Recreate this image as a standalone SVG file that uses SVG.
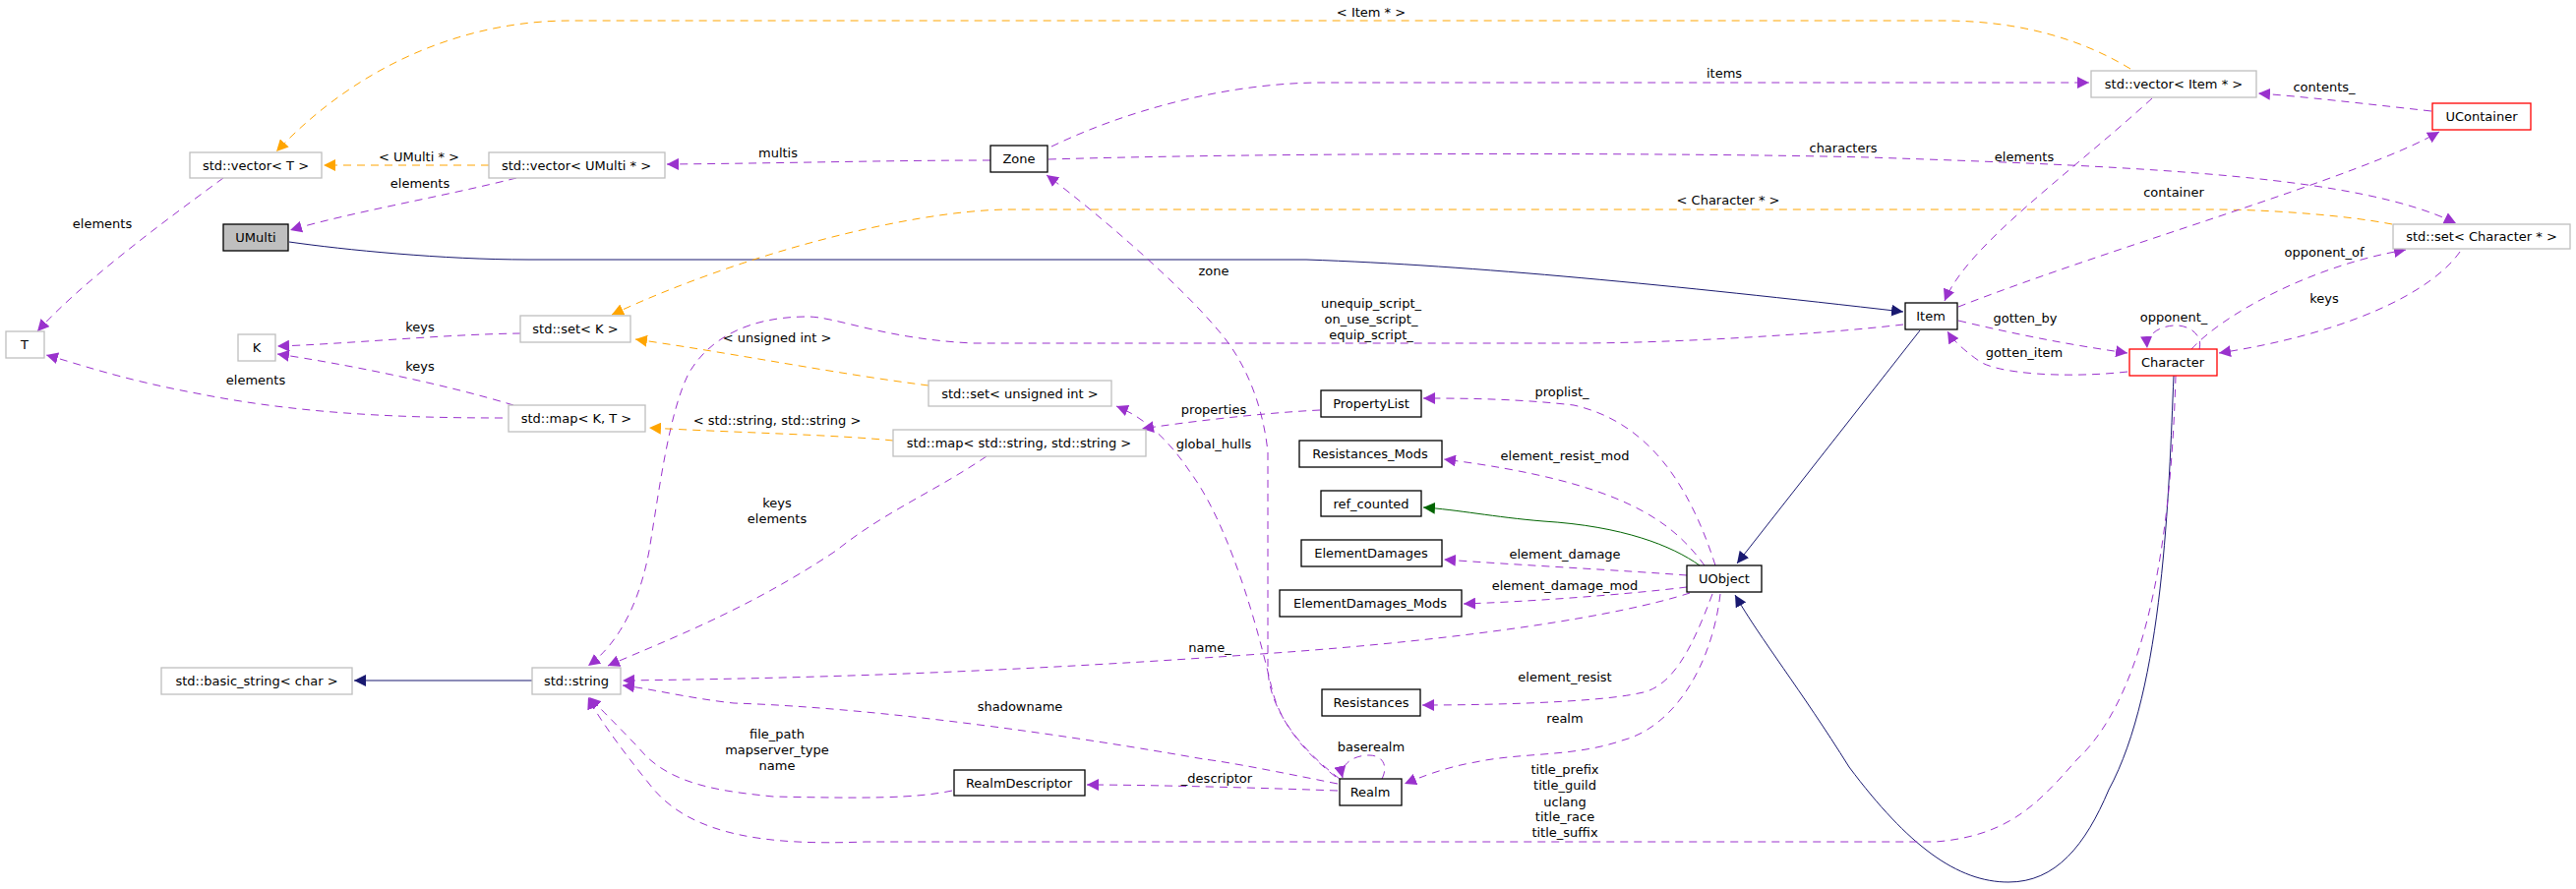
<svg xmlns="http://www.w3.org/2000/svg" width="2619" height="904" viewBox="0 0 2619 904">
<defs>
<style>
text{font-family:"DejaVu Sans","Liberation Sans",sans-serif;font-size:13px;fill:#000;text-anchor:middle}
.n rect{fill:#fff;stroke:#000;stroke-width:1.3}
.g rect{fill:#fff;stroke:#bfbfbf;stroke-width:1.3}
.r rect{fill:#fff;stroke:#ff0000;stroke-width:1.3}
.c path{fill:none}
.p{stroke:#9a32cd;stroke-dasharray:8,6;marker-end:url(#ap)}
.o{stroke:#ffa500;stroke-dasharray:8,6;marker-end:url(#ao)}
.b{stroke:#191970;marker-end:url(#ab)}
.d{stroke:#006400;marker-end:url(#ad)}
</style>
<marker id="ap" viewBox="0 0 10 10" refX="10" refY="5" markerWidth="12" markerHeight="12" markerUnits="userSpaceOnUse" orient="auto"><path d="M0,0L10,5L0,10z" fill="#9a32cd"/></marker>
<marker id="ao" viewBox="0 0 10 10" refX="10" refY="5" markerWidth="12" markerHeight="12" markerUnits="userSpaceOnUse" orient="auto"><path d="M0,0L10,5L0,10z" fill="#ffa500"/></marker>
<marker id="ab" viewBox="0 0 10 10" refX="10" refY="5" markerWidth="12" markerHeight="12" markerUnits="userSpaceOnUse" orient="auto"><path d="M0,0L10,5L0,10z" fill="#191970"/></marker>
<marker id="ad" viewBox="0 0 10 10" refX="10" refY="5" markerWidth="12" markerHeight="12" markerUnits="userSpaceOnUse" orient="auto"><path d="M0,0L10,5L0,10z" fill="#006400"/></marker>
</defs>
<rect width="2619" height="904" fill="#fff"/>
<g id="connectors" class="c">
<path class="o" d="M2166,70 C2100,30 2030,21 1974,21 L580,21 C480,21 370,60 281,154"/>
<path class="o" d="M497,168 L329,168"/>
<path class="p" d="M1007,163 C900,163 800,166 678,167"/>
<path class="p" d="M525,181 C450,200 360,215 295,234"/>
<path class="p" d="M227,181 C160,230 80,290 38,337"/>
<path class="p" d="M529,339 C450,340 350,350 282,352"/>
<path class="p" d="M522,412 C450,390 350,370 282,360"/>
<path class="p" d="M511,425 C400,425 300,420 200,400 C120,385 80,370 47,361"/>
<path class="b" d="M294,246 C350,254 450,264 537,264 L1328,264 C1500,270 1700,290 1935,317"/>
<path class="o" d="M2432,228 C2380,218 2300,213 2250,213 L1023,213 C920,215 750,260 622,320"/>
<path class="p" d="M1069,149 C1150,110 1250,85 1340,84 L2124,84"/>
<path class="p" d="M1066,162 C1300,155 1700,155 1900,160 C2200,170 2400,180 2497,227"/>
<path class="p" d="M2188,100 C2100,180 2000,250 1977,306"/>
<path class="p" d="M2472,113 C2400,105 2340,98 2296,95"/>
<path class="p" d="M1991,312 C2150,250 2400,180 2480,134"/>
<path class="p" d="M1991,326 C2050,340 2100,350 2163,359"/>
<path class="p" d="M2163,378 C2100,385 2030,380 2012,367 C1995,355 1985,345 1980,337"/>
<path class="p" d="M2236,355 C2240,340 2225,330 2210,331 C2195,332 2182,340 2183,354"/>
<path class="p" d="M2228,355 C2260,320 2350,270 2446,254"/>
<path class="p" d="M2501,256 C2470,300 2380,340 2256,359"/>
<path class="b" d="M1952,336 L1766,573"/>
<path class="b" d="M2210,382 C2205,500 2200,700 2144,803 C2120,860 2090,897 2042,897 C1990,897 1940,860 1880,780 C1830,700 1790,650 1764,605"/>
<path class="p" d="M2212,382 C2208,520 2190,700 2111,773 C2070,820 2040,850 1968,856 L880,856 C780,860 700,850 660,797 C630,760 605,725 598,709"/>
<path class="p" d="M1744,575 C1720,500 1680,430 1600,412 C1540,405 1480,405 1447,405"/>
<path class="p" d="M1733,575 C1700,530 1650,490 1468,467"/>
<path class="d" d="M1728,575 C1700,555 1650,535 1569,530 C1520,526 1480,518 1447,516"/>
<path class="p" d="M1715,585 C1650,580 1550,575 1468,569"/>
<path class="p" d="M1715,597 C1650,605 1550,612 1488,614"/>
<path class="p" d="M1718,603 C1650,625 1500,650 1282,665 C1000,685 800,690 633,692"/>
<path class="p" d="M1360,797 C1300,785 1250,775 1224,772 C1100,750 900,720 746,715 C700,710 660,700 633,697"/>
<path class="p" d="M1360,804 C1250,800 1150,798 1105,798"/>
<path class="p" d="M968,804 C930,812 880,812 786,810 C740,805 680,800 649,760 C620,730 605,715 599,709"/>
<path class="p" d="M1741,604 C1720,660 1700,700 1666,705 C1620,715 1500,717 1446,717"/>
<path class="p" d="M1749,604 C1740,680 1700,740 1649,753 C1600,770 1546,765 1500,775 C1470,780 1445,790 1428,797"/>
<path class="p" d="M1405,792 C1412,778 1405,768 1392,768 C1375,768 1362,778 1365,791"/>
<path class="p" d="M1362,792 C1320,760 1290,720 1289,680 L1289,460 C1285,420 1270,370 1236,333 C1200,290 1120,220 1064,178"/>
<path class="p" d="M1358,790 C1320,760 1300,730 1293,700 C1270,600 1240,520 1210,480 C1190,450 1165,425 1135,413"/>
<path class="p" d="M1935,330 C1850,340 1700,349 1600,349 L990,349 C900,345 850,322 821,322 C760,322 720,345 700,380 C680,420 670,500 660,560 C645,640 610,668 598,677"/>
<path class="p" d="M1342,417 C1280,420 1200,430 1161,436"/>
<path class="o" d="M908,448 C850,442 750,440 660,435"/>
<path class="o" d="M944,392 C850,380 750,360 646,345"/>
<path class="p" d="M1003,464 C950,500 900,520 850,560 C760,620 680,650 618,677"/>
<path class="b" d="M541,692 L360,692"/>
</g>
<g id="labels">
<text x="1394" y="17">&lt; Item * &gt;</text>
<text x="426" y="164">&lt; UMulti * &gt;</text>
<text x="427" y="191">elements</text>
<text x="791" y="160">multis</text>
<text x="104" y="232">elements</text>
<text x="427" y="337">keys</text>
<text x="427" y="377">keys</text>
<text x="260" y="391">elements</text>
<text x="790" y="348">&lt; unsigned int &gt;</text>
<text x="790" y="432">&lt; std::string, std::string &gt;</text>
<text x="1753" y="79">items</text>
<text x="1757" y="208">&lt; Character * &gt;</text>
<text x="1234" y="280">zone</text>
<text x="1394" y="313">unequip_script_</text>
<text x="1394" y="329">on_use_script_</text>
<text x="1394" y="345">equip_script_</text>
<text x="1234" y="421">properties</text>
<text x="1234" y="456">global_hulls</text>
<text x="1588" y="403">proplist_</text>
<text x="2363" y="93">contents_</text>
<text x="1874" y="155">characters</text>
<text x="2058" y="164">elements</text>
<text x="2210" y="200">container</text>
<text x="2363" y="261">opponent_of</text>
<text x="2363" y="308">keys</text>
<text x="2059" y="328">gotten_by</text>
<text x="2210" y="327">opponent_</text>
<text x="2058" y="363">gotten_item</text>
<text x="1591" y="468">element_resist_mod</text>
<text x="1591" y="568">element_damage</text>
<text x="1591" y="600">element_damage_mod</text>
<text x="1230" y="663">name_</text>
<text x="1591" y="693">element_resist</text>
<text x="1591" y="735">realm</text>
<text x="1037" y="723">shadowname</text>
<text x="1394" y="764">baserealm</text>
<text x="1237" y="796">_descriptor</text>
<text x="1591" y="787">title_prefix</text>
<text x="1591" y="803">title_guild</text>
<text x="1591" y="820">uclang</text>
<text x="1591" y="835">title_race</text>
<text x="1591" y="851">title_suffix</text>
<text x="790" y="516">keys</text>
<text x="790" y="532">elements</text>
<text x="790" y="751">file_path</text>
<text x="790" y="767">mapserver_type</text>
<text x="790" y="783">name</text>
</g>
<g id="vectorT" class="g"><rect x="193" y="155" width="134" height="26"/><text x="260" y="173">std::vector&lt; T &gt;</text></g>
<g id="vectorUMulti" class="g"><rect x="497" y="155" width="179" height="26"/><text x="586" y="173">std::vector&lt; UMulti * &gt;</text></g>
<g id="UMulti"><rect x="227" y="228" width="66" height="27" fill="#bfbfbf" stroke="#000" stroke-width="1.3"/><text x="260" y="246">UMulti</text></g>
<g id="T" class="g"><rect x="6" y="337" width="39" height="27"/><text x="25" y="355">T</text></g>
<g id="K" class="g"><rect x="242" y="340" width="38" height="27"/><text x="261" y="358">K</text></g>
<g id="setK" class="g"><rect x="529" y="321" width="112" height="27"/><text x="585" y="339">std::set&lt; K &gt;</text></g>
<g id="mapKT" class="g"><rect x="517" y="412" width="139" height="27"/><text x="586" y="430">std::map&lt; K, T &gt;</text></g>
<g id="Zone" class="n"><rect x="1007" y="148" width="58" height="27"/><text x="1036" y="166">Zone</text></g>
<g id="setUInt" class="g"><rect x="944" y="387" width="186" height="26"/><text x="1037" y="405">std::set&lt; unsigned int &gt;</text></g>
<g id="PropertyList" class="n"><rect x="1343" y="397" width="102" height="27"/><text x="1394" y="415">PropertyList</text></g>
<g id="mapSS" class="g"><rect x="908" y="437" width="257" height="27"/><text x="1036" y="455">std::map&lt; std::string, std::string &gt;</text></g>
<g id="vectorItem" class="g"><rect x="2126" y="72" width="168" height="27"/><text x="2210" y="90">std::vector&lt; Item * &gt;</text></g>
<g id="UContainer" class="r"><rect x="2473" y="105" width="100" height="27"/><text x="2523" y="123">UContainer</text></g>
<g id="setCharacter" class="g"><rect x="2433" y="228" width="180" height="25"/><text x="2523" y="245">std::set&lt; Character * &gt;</text></g>
<g id="Item" class="n"><rect x="1937" y="308" width="53" height="27"/><text x="1963" y="326">Item</text></g>
<g id="Character" class="r"><rect x="2165" y="355" width="89" height="27"/><text x="2209" y="373">Character</text></g>
<g id="Resistances_Mods" class="n"><rect x="1321" y="448" width="145" height="27"/><text x="1393" y="466">Resistances_Mods</text></g>
<g id="ref_counted" class="n"><rect x="1343" y="499" width="102" height="26"/><text x="1394" y="517">ref_counted</text></g>
<g id="ElementDamages" class="n"><rect x="1323" y="549" width="143" height="27"/><text x="1394" y="567">ElementDamages</text></g>
<g id="ElementDamages_Mods" class="n"><rect x="1301" y="600" width="185" height="27"/><text x="1393" y="618">ElementDamages_Mods</text></g>
<g id="UObject" class="n"><rect x="1715" y="575" width="76" height="27"/><text x="1753" y="593">UObject</text></g>
<g id="Resistances" class="n"><rect x="1344" y="701" width="100" height="27"/><text x="1394" y="719">Resistances</text></g>
<g id="Realm" class="n"><rect x="1362" y="792" width="63" height="27"/><text x="1393" y="810">Realm</text></g>
<g id="RealmDescriptor" class="n"><rect x="970" y="783" width="133" height="26"/><text x="1036" y="801">RealmDescriptor</text></g>
<g id="basic_string" class="g"><rect x="164" y="679" width="194" height="27"/><text x="261" y="697">std::basic_string&lt; char &gt;</text></g>
<g id="std_string" class="g"><rect x="541" y="679" width="90" height="27"/><text x="586" y="697">std::string</text></g>
</svg>
